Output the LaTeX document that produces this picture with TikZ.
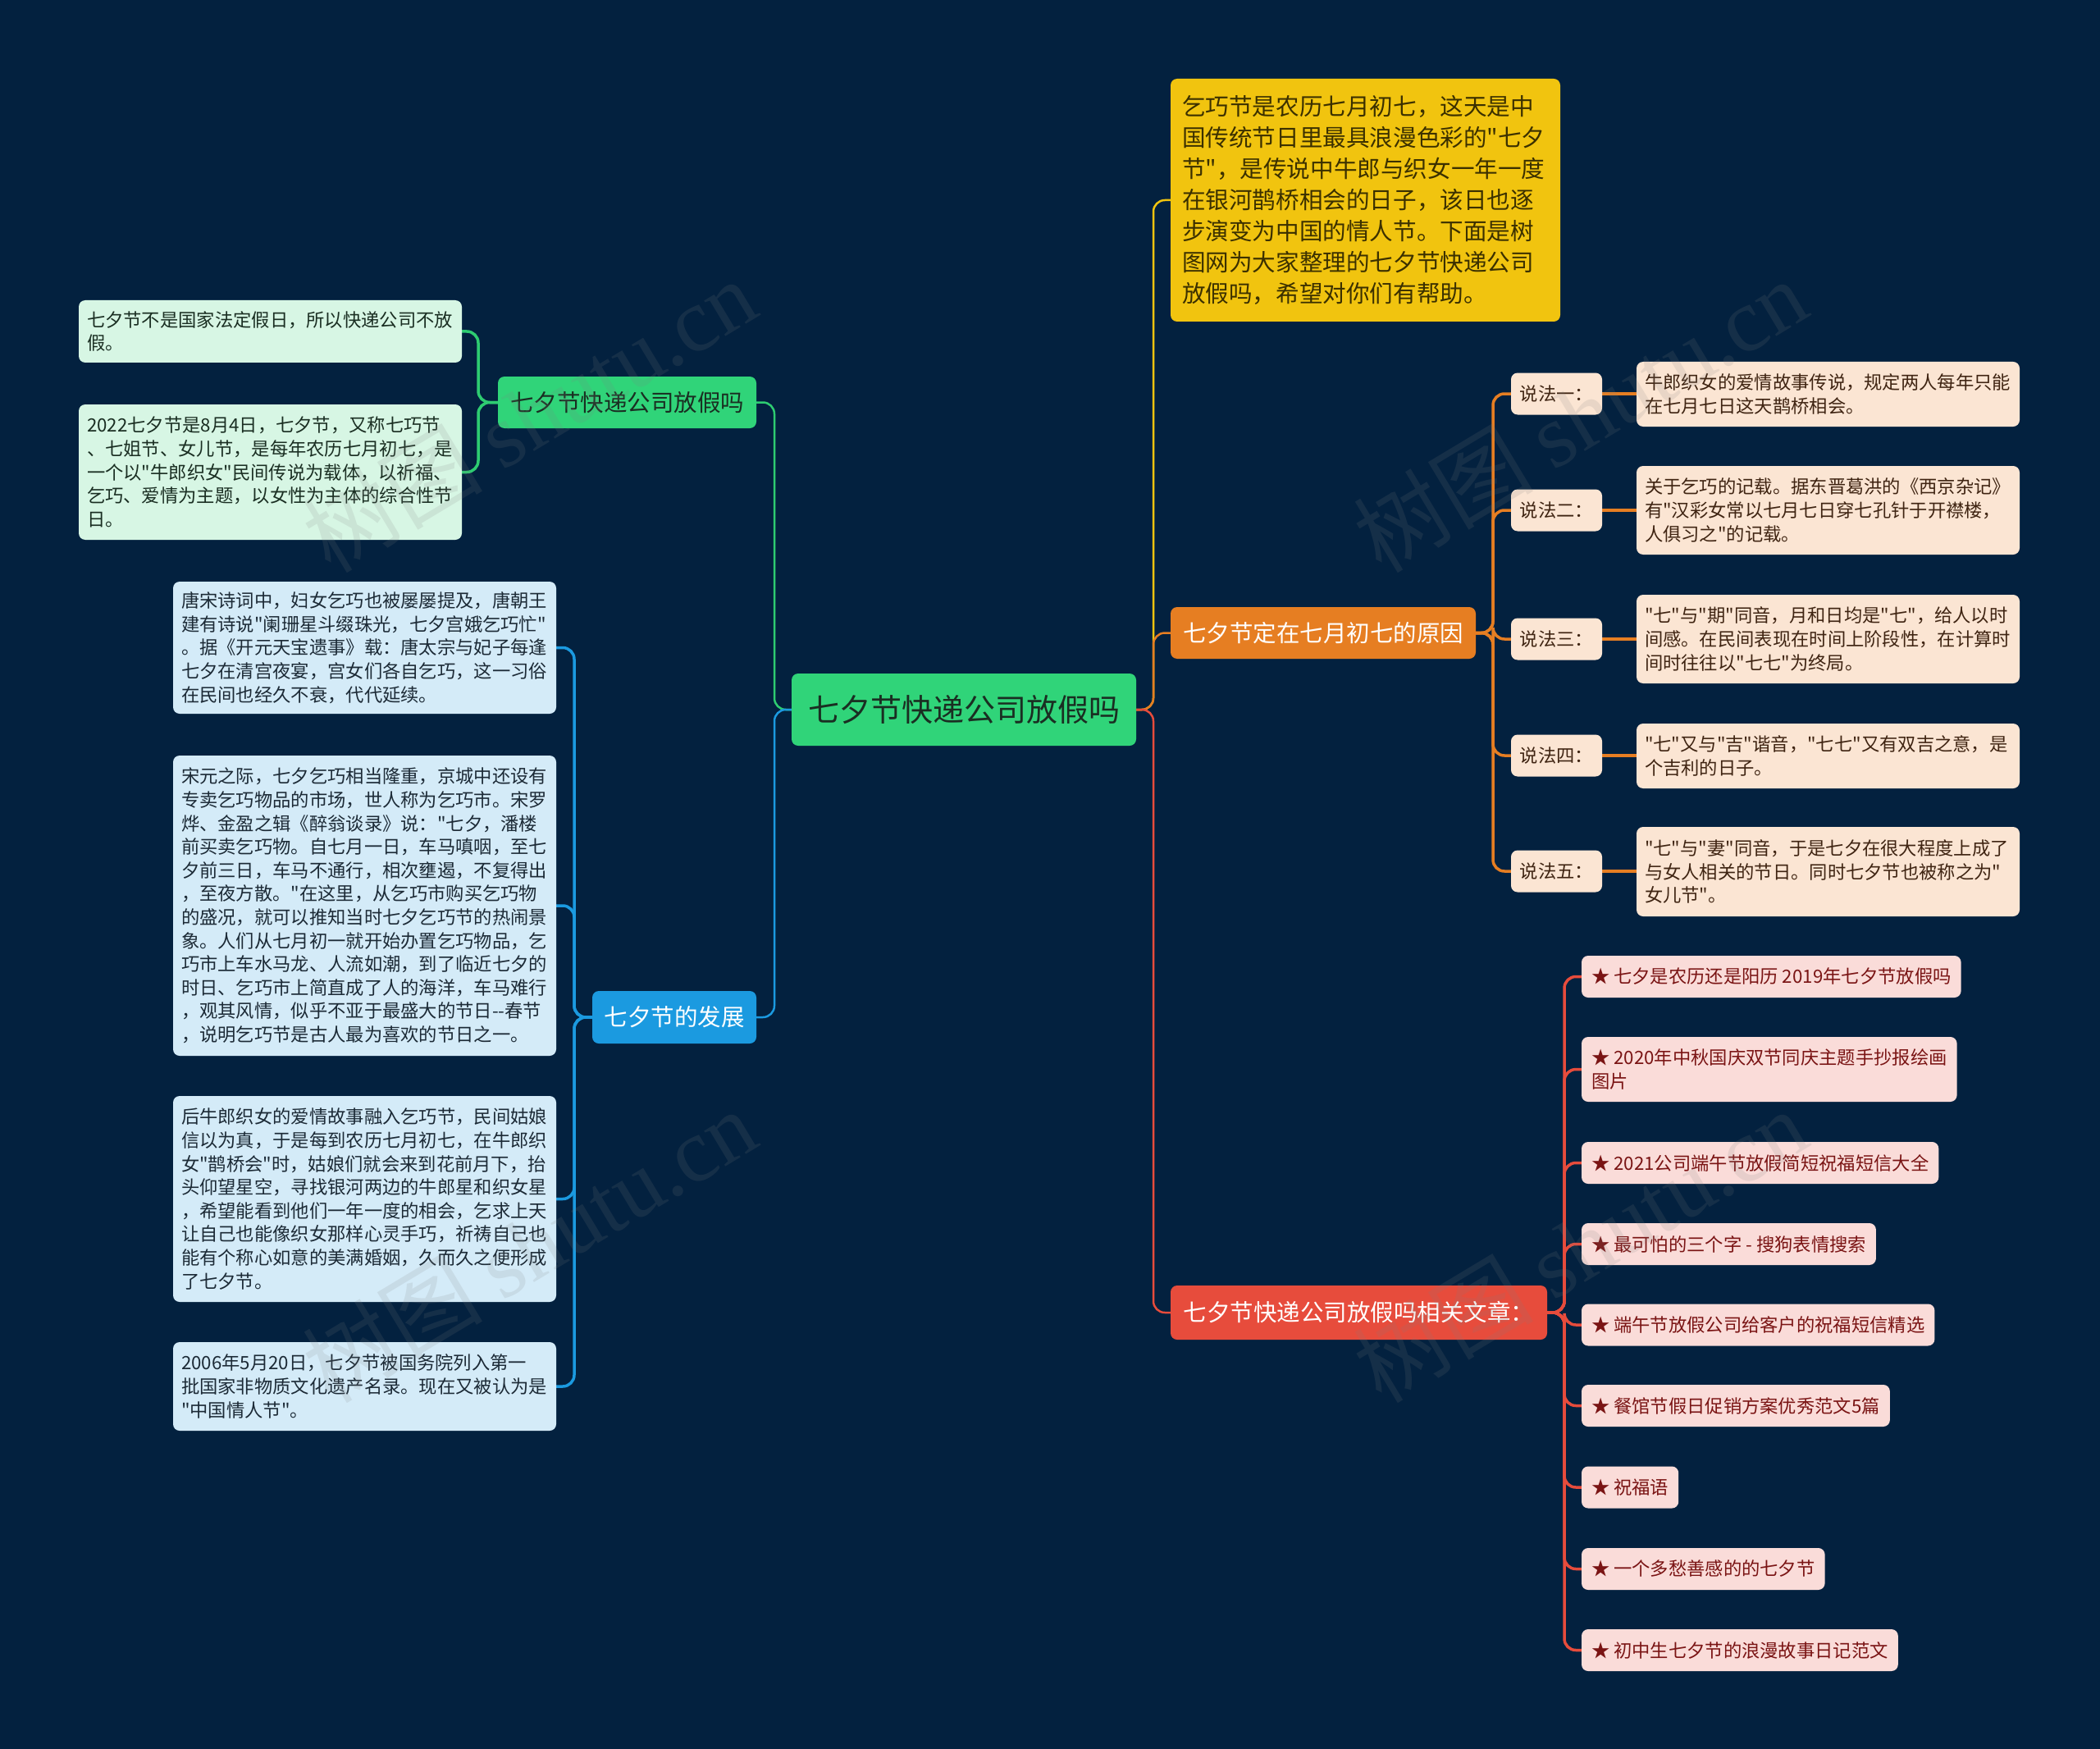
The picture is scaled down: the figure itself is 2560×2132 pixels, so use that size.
\documentclass[tikz,border=0pt]{standalone}
\usepackage{fontspec}
\setmainfont{Noto Sans CJK SC}[Ligatures=TeXOff]
\newfontfamily\wmserif{Liberation Serif}
\pgfdeclarelayer{back}
\pgfsetlayers{back,main}
\definecolor{bg}{HTML}{03213F}
\definecolor{cgreen}{HTML}{2ECC71}
\definecolor{rootfill}{HTML}{30D479}
\definecolor{darktx}{HTML}{1A2E22}
\definecolor{gleaf}{HTML}{D7F6E4}
\definecolor{btx}{HTML}{1C2A36}
\definecolor{cblue}{HTML}{1B9AE0}
\definecolor{bleaf}{HTML}{D4EBF8}
\definecolor{cyellow}{HTML}{F1C40F}
\definecolor{ytx}{HTML}{3B3000}
\definecolor{corange}{HTML}{E67E22}
\definecolor{oleaf}{HTML}{FBE5D3}
\definecolor{otx}{HTML}{3F2412}
\definecolor{cred}{HTML}{E74C3C}
\definecolor{rleaf}{HTML}{FADCD9}
\definecolor{rtx}{HTML}{7A1414}
\begin{document}
\begin{tikzpicture}[x=1pt,y=-1pt,
 mmbox/.style={rounded corners=8pt, inner ysep=0pt, outer sep=0pt},
 rootnode/.style={mmbox, anchor=north west, fill=rootfill, text=darktx, font=\fontsize{38}{46}\selectfont, minimum width=420pt, minimum height=88pt, inner xsep=0pt},
 branchnode/.style={mmbox, anchor=north west, font=\fontsize{28.5}{36}\selectfont, minimum height=63pt, inner xsep=0pt},
 leafg/.style={mmbox, anchor=north west, fill=gleaf, text=darktx, font=\fontsize{22.3}{28.6}\selectfont, align=left, text width=447pt, inner xsep=10pt},
 leafb/.style={leafg, fill=bleaf, text=btx},
 leafo/.style={leafg, fill=oleaf, text=otx},
 saynode/.style={mmbox, anchor=west, fill=oleaf, text=otx, font=\fontsize{22.3}{28.6}\selectfont, minimum width=111pt, minimum height=51pt, inner xsep=0pt},
 leafr/.style={mmbox, anchor=west, fill=rleaf, text=rtx, font=\fontsize{22.3}{28.6}\selectfont, align=left, inner xsep=12pt, minimum height=51pt},
 conn/.style={line width=3.5pt, rounded corners=14pt},
 mainconn/.style={line width=2.5pt, rounded corners=14pt},
 wm/.style={text=gray, text opacity=0.15, font=\fontsize{110}{120}\selectfont, rotate=31}
]
\useasboundingbox (0,0) rectangle (2560,2132);
\begin{pgfonlayer}{back}
\fill[bg] (0,0) rectangle (2560,2132);
\end{pgfonlayer}

% root and branches
\node[rootnode] (root) at (965,821) {七夕节快递公司放假吗};
\node[branchnode, fill=rootfill, text=darktx, minimum width=315pt] (gB) at (607,459) {七夕节快递公司放假吗};
\node[branchnode, fill=cblue, text=white, minimum width=200pt, minimum height=64pt] (bB) at (722,1208) {七夕节的发展};
\node[mmbox, anchor=north west, fill=cyellow, text=ytx, font=\fontsize{28.6}{38}\selectfont, align=left, text width=447pt, inner xsep=14pt, minimum height=296pt] (yB) at (1427,96) {乞巧节是农历七月初七，这天是中\\国传统节日里最具浪漫色彩的"七夕\\节"，是传说中牛郎与织女一年一度\\在银河鹊桥相会的日子，该日也逐\\步演变为中国的情人节。下面是树\\图网为大家整理的七夕节快递公司\\放假吗，希望对你们有帮助。};
\node[branchnode, fill=corange, text=white, minimum width=372pt] (oB) at (1427,740) {七夕节定在七月初七的原因};
\node[branchnode, fill=cred, text=white, minimum width=459pt, minimum height=66pt] (rB) at (1427,1567) {七夕节快递公司放假吗相关文章：};

% green leaves
\node[leafg, minimum height=76pt] (g1) at (96,366) {七夕节不是国家法定假日，所以快递公司不放\\假。};
\node[leafg, minimum height=165pt] (g2) at (96,493) {2022七夕节是8月4日，七夕节，又称七巧节\\、七姐节、女儿节，是每年农历七月初七，是\\一个以"牛郎织女"民间传说为载体，以祈福、\\乞巧、爱情为主题，以女性为主体的综合性节\\日。};

% blue leaves
\node[leafb, minimum height=161pt] (b1) at (211,709) {唐宋诗词中，妇女乞巧也被屡屡提及，唐朝王\\建有诗说"阑珊星斗缀珠光，七夕宫娥乞巧忙"\\。据《开元天宝遗事》载：唐太宗与妃子每逢\\七夕在清宫夜宴，宫女们各自乞巧，这一习俗\\在民间也经久不衰，代代延续。};
\node[leafb, minimum height=366pt] (b2) at (211,921) {宋元之际，七夕乞巧相当隆重，京城中还设有\\专卖乞巧物品的市场，世人称为乞巧市。宋罗\\烨、金盈之辑《醉翁谈录》说："七夕，潘楼\\前买卖乞巧物。自七月一日，车马嗔咽，至七\\夕前三日，车马不通行，相次壅遏，不复得出\\，至夜方散。"在这里，从乞巧市购买乞巧物\\的盛况，就可以推知当时七夕乞巧节的热闹景\\象。人们从七月初一就开始办置乞巧物品，乞\\巧市上车水马龙、人流如潮，到了临近七夕的\\时日、乞巧市上简直成了人的海洋，车马难行\\，观其风情，似乎不亚于最盛大的节日-{}-春节\\，说明乞巧节是古人最为喜欢的节日之一。};
\node[leafb, minimum height=251pt] (b3) at (211,1336) {后牛郎织女的爱情故事融入乞巧节，民间姑娘\\信以为真，于是每到农历七月初七，在牛郎织\\女"鹊桥会"时，姑娘们就会来到花前月下，抬\\头仰望星空，寻找银河两边的牛郎星和织女星\\，希望能看到他们一年一度的相会，乞求上天\\让自己也能像织女那样心灵手巧，祈祷自己也\\能有个称心如意的美满婚姻，久而久之便形成\\了七夕节。};
\node[leafb, minimum height=108pt] (b4) at (211,1636) {2006年5月20日，七夕节被国务院列入第一\\批国家非物质文化遗产名录。现在又被认为是\\"中国情人节"。};

% orange sub-nodes
\node[saynode] (s1) at (1842,480) {说法一：};
\node[saynode] (s2) at (1842,622) {说法二：};
\node[saynode] (s3) at (1842,779) {说法三：};
\node[saynode] (s4) at (1842,921) {说法四：};
\node[saynode] (s5) at (1842,1062) {说法五：};
\node[leafo, minimum height=79pt] (o1) at (1995,441) {牛郎织女的爱情故事传说，规定两人每年只能\\在七月七日这天鹊桥相会。};
\node[leafo, minimum height=108pt] (o2) at (1995,568) {关于乞巧的记载。据东晋葛洪的《西京杂记》\\有"汉彩女常以七月七日穿七孔针于开襟楼，\\人俱习之"的记载。};
\node[leafo, minimum height=108pt] (o3) at (1995,725) {"七"与"期"同音，月和日均是"七"，给人以时\\间感。在民间表现在时间上阶段性，在计算时\\间时往往以"七七"为终局。};
\node[leafo, minimum height=79pt] (o4) at (1995,882) {"七"又与"吉"谐音，"七七"又有双吉之意，是\\个吉利的日子。};
\node[leafo, minimum height=109pt] (o5) at (1995,1008) {"七"与"妻"同音，于是七夕在很大程度上成了\\与女人相关的节日。同时七夕节也被称之为"\\女儿节"。};

% red leaves
\node[leafr] (r1) at (1928,1190.5) {★ 七夕是农历还是阳历 2019年七夕节放假吗};
\node[leafr, minimum height=79pt] (r2) at (1928,1303.5) {★ 2020年中秋国庆双节同庆主题手抄报绘画\\图片};
\node[leafr] (r3) at (1928,1417.5) {★ 2021公司端午节放假简短祝福短信大全};
\node[leafr] (r4) at (1928,1516.5) {★ 最可怕的三个字 - 搜狗表情搜索};
\node[leafr] (r5) at (1928,1615) {★ 端午节放假公司给客户的祝福短信精选};
\node[leafr] (r6) at (1928,1713.5) {★ 餐馆节假日促销方案优秀范文5篇};
\node[leafr] (r7) at (1928,1813) {★ 祝福语};
\node[leafr] (r8) at (1928,1912.5) {★ 一个多愁善感的的七夕节};
\node[leafr] (r9) at (1928,2011.5) {★ 初中生七夕节的浪漫故事日记范文};

% connectors
\begin{pgfonlayer}{back}
\draw[mainconn, cgreen] (root.west) -- ++(-21,0) |- (gB.east);
\draw[mainconn, cblue] (root.west) -- ++(-21,0) |- (bB.east);
\draw[mainconn, cyellow] (root.east) -- ++(21,0) |- (yB.west);
\draw[mainconn, corange] (root.east) -- ++(21,0) |- (oB.west);
\draw[mainconn, cred] (root.east) -- ++(21,0) |- (rB.west);
\foreach \n in {g1,g2} \draw[conn, cgreen] (gB.west) -- ++(-24,0) |- (\n.east);
\foreach \n in {b1,b2,b3,b4} \draw[conn, cblue] (bB.west) -- ++(-22,0) |- (\n.east);
\foreach \n in {s1,s2,s3,s4,s5} \draw[conn, corange] (oB.east) -- ++(21,0) |- (\n.west);
\foreach \a/\b in {s1/o1,s2/o2,s3/o3,s4/o4,s5/o5} \draw[corange, line width=4pt] (\a.east) -- (\a.east -| \b.west);
\foreach \n in {r1,r2,r3,r4,r5,r6,r7,r8,r9} \draw[conn, cred] (rB.east) -- ++(21,0) |- (\n.west);
\end{pgfonlayer}

% watermarks
\node[wm] (wm1) at (645,506) {树图 {\wmserif shutu.cn}};
\node[wm] (wm2) at (1926,506) {树图 {\wmserif shutu.cn}};
\node[wm] (wm3) at (645,1518) {树图 {\wmserif shutu.cn}};
\node[wm] (wm4) at (1926,1518) {树图 {\wmserif shutu.cn}};
\end{tikzpicture}
\end{document}
